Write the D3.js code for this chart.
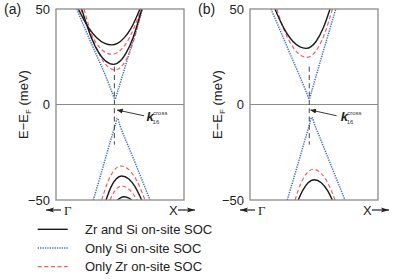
<!DOCTYPE html>
<html>
<head>
<meta charset="utf-8">
<script src="https://cdn.jsdelivr.net/npm/d3@7"></script>
<style>
  body { margin: 0; background: #fff; }
  svg { display: block; font-family: 'Liberation Sans', Arial, sans-serif; }
</style>
</head>
<body>
<svg id="chart" width="399" height="279"></svg>
<script>
// k along the cut (0 = Gamma side, 100 = X side), E - E_F in meV

// panel (a)
const aBothUp1 = [[17.4,50],[25.6,40],[31.8,35],[38.1,32],[43.5,31.2],[48.0,32],[53.4,35],[58.7,40],[65.6,50]];
const aBothUp2 = [[20.1,50],[27.6,35],[33.5,27],[38.3,23],[44.8,21.0],[50.6,23],[54.8,27],[60.2,35],[67.0,50]];
const aBothDn1 = [[39.1,-50],[43.1,-43],[46.95,-39],[51.3,-37.4],[56.9,-39],[61.7,-43],[66.9,-50]];
const aBothDn2 = [[47.9,-50],[50.2,-49.0],[52.6,-48.3],[56.5,-48.9],[59.1,-50]];
const aSiUp = [[16.2,50],[23.4,38.5],[31.3,26.4],[39.1,14.4],[43.75,6.5],[46.1,2.9],[48.0,6.5],[51.6,14.4],[57.0,26.4],[62.5,38.5],[67.7,50]];
const aSiDn = [[29.1,-50],[34.0,-39],[38.5,-28.5],[46.3,-10.7],[47.9,-7.2],[49.8,-10.7],[60.6,-28.5],[66.9,-39],[73.4,-50]];
const aZrUp1 = [[19.3,50],[25.1,40],[31.6,32],[37.0,28],[43.5,26.3],[49.6,28],[54.8,32],[60.9,40],[66.4,50]];
const aZrUp2 = [[21.9,50],[30.1,32],[36.6,23],[41.0,19.5],[46.1,18.1],[50.5,19.5],[54.4,23],[60.0,32],[67.2,50]];
const aZrDn1 = [[35.7,-50],[40.8,-40],[44.8,-35],[50.8,-32.2],[58.2,-35],[63.2,-40],[69.5,-50]];
const aZrDn2 = [[42.2,-50],[45.2,-46],[51.3,-42.7],[59.4,-46],[63.3,-50]];

// panel (b)
const bBothUp = [[19.5,50],[26.4,40],[33.6,33],[38.7,30.3],[43.75,29.4],[47.7,30.3],[51.6,33],[57.2,40],[62.5,50]];
const bBothDn = [[37.7,-50],[41.2,-45],[45.4,-41],[50.2,-39.4],[55.7,-41],[60.5,-45],[64.3,-50]];
const bSiUp = [[16.4,50],[23.75,38.5],[31.4,26.4],[39.1,14.4],[44.0,6.5],[46.3,2.9],[48.0,6.5],[51.4,14.4],[56.6,26.4],[61.95,38.5],[67.0,50]];
const bSiDn = [[29.1,-50],[34.0,-39],[38.6,-28.5],[46.4,-10.7],[48.2,-6.7],[50.6,-10.7],[61.3,-28.5],[67.6,-39],[74.2,-50]];
const bZrUp = [[20.9,50],[27.3,38],[33.6,30],[39.0,26],[44.3,24.7],[48.8,26],[53.4,30],[58.8,38],[64.3,50]];
const bZrDn = [[35.2,-50],[39.3,-42],[44.3,-36],[49.5,-33.9],[55.5,-36],[61.5,-42],[66.4,-50]];

const panelNames = ['(a)', '(b)'];
const crossK = [45.6, 46.3];
const crossE = [19.8, -21];
const arrowTail = [[68.75, -5.9], [67.7, -5.9]];
const arrowHead = [[47.9, -2.9], [47.4, -2.9]];
const labelAt = [[70.8, -8.6], [70.9, -8.6]];
const yTicks = [50, 0, -50];
const legendNames = ['Zr and Si on-site SOC', 'Only Si on-site SOC', 'Only Zr on-site SOC'];
const legendKeys = ['both', 'si', 'zr'];

const panels = [
  { both: [aBothUp1, aBothUp2, aBothDn1, aBothDn2], si: [aSiUp, aSiDn], zr: [aZrUp1, aZrUp2, aZrDn1, aZrDn2] },
  { both: [bBothUp, bBothDn], si: [bSiUp, bSiDn], zr: [bZrUp, bZrDn] }
];

const styles = {
  both: { color: '#1a1a1a', width: 1.4, dash: null },
  si:   { color: '#3f6fc4', width: 1.5, dash: '1.3,1.1' },
  zr:   { color: '#f25e5e', width: 1.2, dash: '4,2.6' }
};

const svg = d3.select('#chart');
const lefts = [56, 250];
const w = 128;
const frameTop = 9, frameBottom = 200;

const defs = svg.append('defs');
defs.append('marker')
    .attr('id', 'head')
    .attr('viewBox', '0 0 10 10')
    .attr('refX', 9).attr('refY', 5)
    .attr('markerWidth', 6).attr('markerHeight', 6)
    .attr('markerUnits', 'userSpaceOnUse')
    .attr('orient', 'auto')
    .append('path')
    .attr('d', 'M0,1 L10,5 L0,9 Z')
    .attr('fill', '#222');
defs.append('marker')
    .attr('id', 'bighead')
    .attr('viewBox', '0 0 10 10')
    .attr('refX', 10).attr('refY', 5)
    .attr('markerWidth', 8).attr('markerHeight', 7)
    .attr('markerUnits', 'userSpaceOnUse')
    .attr('orient', 'auto')
    .attr('preserveAspectRatio', 'none')
    .append('path')
    .attr('d', 'M0,1.5 L10,5 L0,8.5 L2,5 Z')
    .attr('fill', '#222');

const y = d3.scaleLinear().domain([-50, 50]).range([frameBottom, frameTop]);

panels.forEach((p, i) => {
  const left = lefts[i];
  const x = d3.scaleLinear().domain([0, 100]).range([left, left + w]);
  const g = svg.append('g');

  const clipId = 'clip' + i;
  defs.append('clipPath').attr('id', clipId)
      .append('rect').attr('x', left).attr('y', frameTop).attr('width', w).attr('height', frameBottom - frameTop);

  const line = d3.line()
                 .x(d => x(d[0]))
                 .y(d => y(d[1]))
                 .curve(d3.curveMonotoneX);

  // zero line
  g.append('line')
   .attr('x1', left).attr('x2', left + w)
   .attr('y1', y(0)).attr('y2', y(0))
   .attr('stroke', '#8a8a8a').attr('stroke-width', 1);

  const curves = g.append('g').attr('clip-path', `url(#${clipId})`);
  ['si', 'zr', 'both'].forEach(key => {
    const s = styles[key];
    curves.selectAll(null)
          .data(p[key])
          .enter()
          .append('path')
          .attr('d', line)
          .attr('fill', 'none')
          .attr('stroke', s.color)
          .attr('stroke-width', s.width)
          .attr('stroke-dasharray', s.dash);
  });

  // dashed guide at the crossing k
  g.append('line')
   .attr('x1', x(crossK[i])).attr('x2', x(crossK[i]))
   .attr('y1', y(crossE[0])).attr('y2', y(crossE[1]))
   .attr('stroke', '#444').attr('stroke-width', 1)
   .attr('stroke-dasharray', '5,3.3');

  // frame
  g.append('rect')
   .attr('x', left).attr('y', frameTop)
   .attr('width', w).attr('height', frameBottom - frameTop)
   .attr('fill', 'none')
   .attr('stroke', '#8a8a8a').attr('stroke-width', 1.3);

  // y axis labels
  const yAxis = d3.axisLeft(y).tickValues(yTicks).tickSize(0).tickPadding(6);
  const ax = g.append('g')
              .attr('transform', `translate(${left}, 0)`)
              .call(yAxis);
  ax.select('.domain').remove();
  ax.selectAll('text')
    .attr('font-size', 13)
    .attr('font-family', "'Liberation Sans', Arial, sans-serif")
    .attr('fill', '#222');

  const yl = g.append('text')
              .attr('transform', `translate(${left - 28}, ${(frameTop + frameBottom) / 2}) rotate(-90)`)
              .attr('text-anchor', 'middle')
              .attr('font-size', 13)
              .attr('fill', '#222');
  yl.append('tspan').text('E\u2212E');
  yl.append('tspan').attr('font-size', 8).attr('dy', 3).text('F');
  yl.append('tspan').attr('dy', -3).text(' (meV)');

  g.append('text')
   .attr('x', left - 52).attr('y', 14)
   .attr('font-size', 14)
   .attr('fill', '#222')
   .text(panelNames[i]);

  // k_16^cross annotation
  g.append('line')
   .attr('x1', x(arrowTail[i][0])).attr('y1', y(arrowTail[i][1]))
   .attr('x2', x(arrowHead[i][0])).attr('y2', y(arrowHead[i][1]))
   .attr('stroke', '#222').attr('stroke-width', 0.9)
   .attr('marker-end', 'url(#head)');

  const lx = x(labelAt[i][0]), ly = y(labelAt[i][1]);
  g.append('text')
   .attr('x', lx).attr('y', ly)
   .attr('font-size', 13).attr('font-weight', 'bold').attr('font-style', 'italic')
   .attr('fill', '#222')
   .text('k');
  g.append('text')
   .attr('x', lx + 6.5).attr('y', ly - 6)
   .attr('font-size', 6).attr('fill', '#333')
   .text('cross');
  g.append('text')
   .attr('x', lx + 6).attr('y', ly + 3.5)
   .attr('font-size', 6).attr('fill', '#333')
   .text('16');

  // direction markers under the frame
  const ay = 210;
  g.append('line')
   .attr('x1', left + 5).attr('x2', left - 10)
   .attr('y1', ay).attr('y2', ay)
   .attr('stroke', '#222').attr('stroke-width', 1.2)
   .attr('marker-end', 'url(#bighead)');
  g.append('text')
   .attr('x', left + 8).attr('y', ay + 4.5)
   .attr('font-size', 13)
   .attr('font-family', "'Liberation Serif', 'DejaVu Serif', serif")
   .attr('fill', '#222')
   .text('\u0393');
  g.append('text')
   .attr('x', left + 113).attr('y', ay + 4.5)
   .attr('font-size', 13)
   .attr('fill', '#222')
   .text('X');
  g.append('line')
   .attr('x1', left + 122).attr('x2', left + 139)
   .attr('y1', ay).attr('y2', ay)
   .attr('stroke', '#222').attr('stroke-width', 1.2)
   .attr('marker-end', 'url(#bighead)');
});

// legend
const legendY = d3.scalePoint().domain(legendKeys).range([229.3, 266.7]);
const lg = svg.append('g');
legendKeys.forEach((key, i) => {
  const s = styles[key];
  lg.append('line')
    .attr('x1', 37.7).attr('x2', 67.7)
    .attr('y1', legendY(key)).attr('y2', legendY(key))
    .attr('stroke', s.color)
    .attr('stroke-width', s.width)
    .attr('stroke-dasharray', s.dash);
  lg.append('text')
    .attr('x', 85).attr('y', legendY(key) + 4.6)
    .attr('font-size', 13)
    .attr('fill', '#222')
    .text(legendNames[i]);
});
</script>
</body>
</html>
